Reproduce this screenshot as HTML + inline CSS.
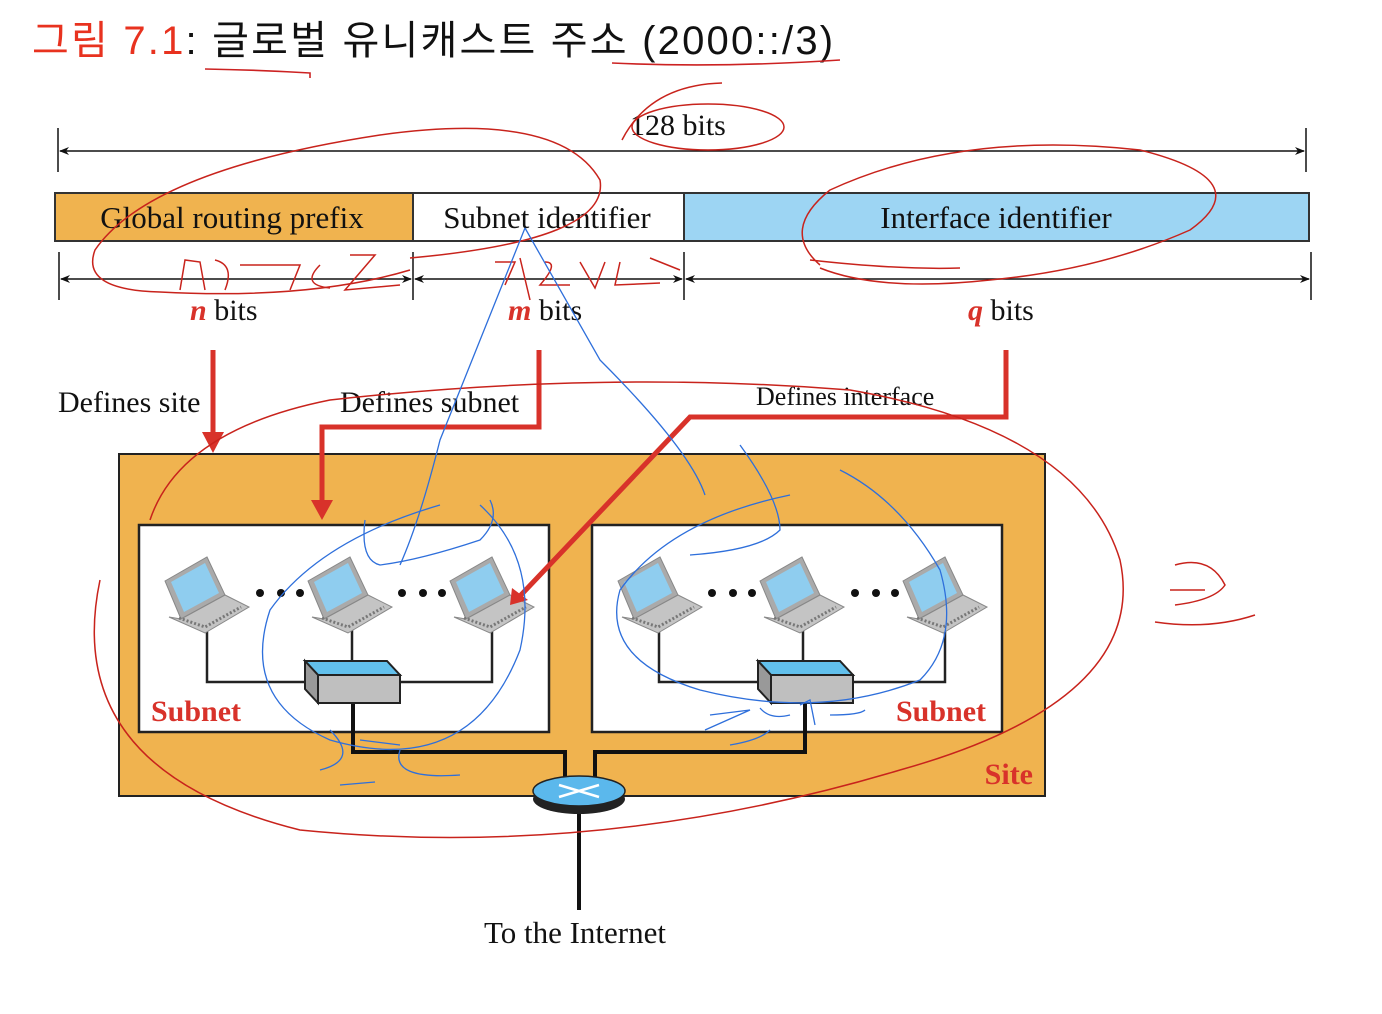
<!DOCTYPE html>
<html><head><meta charset="utf-8"><style>
html,body{margin:0;padding:0;background:#fff;width:1382px;height:1014px;overflow:hidden}
svg{display:block}
.t{font-family:"Liberation Serif",serif;fill:#111}
</style></head><body>
<svg width="1382" height="1014" viewBox="0 0 1382 1014" xmlns="http://www.w3.org/2000/svg">
<defs>
<marker id="ah" markerWidth="10" markerHeight="10" refX="9" refY="5" orient="auto-start-reverse" markerUnits="userSpaceOnUse"><path d="M0,1 L10,5 L0,9 L3,5z" fill="#111"/></marker>
<g id="lap">
 <path d="M0,26 L42,2 L60,40 L16,64 Z" fill="#aaa" stroke="#888"/>
 <path d="M6,27 L40,8 L54,38 L19,57 Z" fill="#8fcdef"/>
 <path d="M16,64 L60,40 L84,52 L40,78 L4,62 Z" fill="#c4c4c4" stroke="#888"/>
 <path d="M14,63 L40,72 L76,52" fill="none" stroke="#777" stroke-width="3" stroke-dasharray="2 2"/>
</g>
<g id="sw">
 <path d="M0,0 L82,0 L95,14 L13,14 Z" fill="#62c0ec" stroke="#222" stroke-width="2"/>
 <path d="M0,0 L13,14 L13,42 L0,28 Z" fill="#999" stroke="#222" stroke-width="2"/>
 <rect x="13" y="14" width="82" height="28" fill="#bfbfbf" stroke="#222" stroke-width="2"/>
</g>
</defs>

<text x="32" y="54" style="font-family:'Liberation Sans','Noto Sans CJK KR',sans-serif;font-size:40px;letter-spacing:2.2px" fill="#e8321f">그림 7.1<tspan fill="#111">:  글로벌 유니캐스트 주소 (2000::/3)</tspan></text>
<path d="M205,69 Q260,70 310,73 L310,78" stroke="#c22" fill="none" stroke-width="1.6"/>
<path d="M612,63 Q720,68 840,60" stroke="#c22" fill="none" stroke-width="1.6"/>

<line x1="58" y1="128" x2="58" y2="172" stroke="#111" stroke-width="1.5"/>
<line x1="1306" y1="128" x2="1306" y2="172" stroke="#111" stroke-width="1.5"/>
<line x1="60" y1="151" x2="1304" y2="151" stroke="#111" stroke-width="1.5" marker-start="url(#ah)" marker-end="url(#ah)"/>
<text class="t" x="630" y="135" font-size="30">128 bits</text>

<rect x="55" y="193" width="358" height="48" fill="#f0b34f" stroke="#333" stroke-width="2"/>
<rect x="413" y="193" width="271" height="48" fill="#fff" stroke="#333" stroke-width="2"/>
<rect x="684" y="193" width="625" height="48" fill="#9dd5f3" stroke="#333" stroke-width="2"/>
<text class="t" x="232" y="228" font-size="31" text-anchor="middle">Global routing prefix</text>
<text class="t" x="547" y="228" font-size="31" text-anchor="middle">Subnet identifier</text>
<text class="t" x="996" y="228" font-size="31" text-anchor="middle">Interface identifier</text>

<g stroke="#111" stroke-width="1.5">
<line x1="59" y1="252" x2="59" y2="300"/><line x1="413" y1="252" x2="413" y2="300"/><line x1="684" y1="252" x2="684" y2="300"/><line x1="1311" y1="252" x2="1311" y2="300"/>
<line x1="61" y1="279" x2="411" y2="279" marker-start="url(#ah)" marker-end="url(#ah)"/>
<line x1="415" y1="279" x2="682" y2="279" marker-start="url(#ah)" marker-end="url(#ah)"/>
<line x1="686" y1="279" x2="1309" y2="279" marker-start="url(#ah)" marker-end="url(#ah)"/>
</g>
<text class="t" x="190" y="320" font-size="30"><tspan fill="#d8322a" font-weight="bold" font-style="italic">n</tspan> bits</text>
<text class="t" x="508" y="320" font-size="30"><tspan fill="#d8322a" font-weight="bold" font-style="italic">m</tspan> bits</text>
<text class="t" x="968" y="320" font-size="30"><tspan fill="#d8322a" font-weight="bold" font-style="italic">q</tspan> bits</text>

<text class="t" x="58" y="412" font-size="30">Defines site</text>
<text class="t" x="340" y="412" font-size="30">Defines subnet</text>
<text class="t" x="756" y="405" font-size="26">Defines interface</text>

<rect x="119" y="454" width="926" height="342" fill="#f0b34f" stroke="#222" stroke-width="2"/>
<rect x="139" y="525" width="410" height="207" fill="#fff" stroke="#222" stroke-width="2.5"/>
<rect x="592" y="525" width="410" height="207" fill="#fff" stroke="#222" stroke-width="2.5"/>
<text x="1033" y="784" font-family="Liberation Serif,serif" font-weight="bold" font-size="30" fill="#d8322a" text-anchor="end">Site</text>
<text x="151" y="721" font-family="Liberation Serif,serif" font-weight="bold" font-size="30" fill="#d8322a">Subnet</text>
<text x="896" y="721" font-family="Liberation Serif,serif" font-weight="bold" font-size="30" fill="#d8322a">Subnet</text>

<g stroke="#222" stroke-width="2.5" fill="none">
<path d="M207,630 L207,682 L320,682"/><path d="M352,630 L352,662"/><path d="M492,630 L492,682 L398,682"/>
<path d="M659,630 L659,682 L770,682"/><path d="M803,630 L803,662"/><path d="M945,630 L945,682 L850,682"/>
</g>
<g stroke="#111" stroke-width="4" fill="none">
<path d="M353,703 L353,752 L565,752 L565,780"/>
<path d="M805,703 L805,752 L595,752 L595,780"/>
<path d="M579,805 L579,910"/>
</g>
<use href="#lap" x="165" y="555"/><use href="#lap" x="308" y="555"/><use href="#lap" x="450" y="555"/>
<use href="#lap" x="618" y="555"/><use href="#lap" x="760" y="555"/><use href="#lap" x="903" y="555"/>
<g fill="#111"><circle cx="260" cy="593" r="4"/><circle cx="281" cy="593" r="4"/><circle cx="300" cy="593" r="4"/>
<circle cx="402" cy="593" r="4"/><circle cx="423" cy="593" r="4"/><circle cx="442" cy="593" r="4"/>
<circle cx="712" cy="593" r="4"/><circle cx="733" cy="593" r="4"/><circle cx="752" cy="593" r="4"/>
<circle cx="855" cy="593" r="4"/><circle cx="876" cy="593" r="4"/><circle cx="895" cy="593" r="4"/></g>
<use href="#sw" x="305" y="661"/><use href="#sw" x="758" y="661"/>

<g stroke="#d8322a" stroke-width="5" fill="none">
<path d="M213,350 L213,440"/>
<path d="M539,350 L539,427 L322,427 L322,507"/>
<path d="M1006,350 L1006,417 L690,417 L520,596"/>
</g>
<path d="M202,432 L213,453 L224,432 Z" fill="#d8322a"/>
<path d="M311,500 L322,520 L333,500 Z" fill="#d8322a"/>
<path d="M512,588 L510,605 L528,600 Z" fill="#d8322a"/>

<ellipse cx="579" cy="799" rx="46" ry="15" fill="#222"/>
<ellipse cx="579" cy="791" rx="46" ry="15" fill="#5bb8ec" stroke="#222" stroke-width="1.5"/>
<path d="M559,785 L599,797 M559,797 L599,785" stroke="#fff" stroke-width="2.5"/>
<text class="t" x="575" y="943" font-size="31" text-anchor="middle">To the Internet</text>

<g stroke="#c8231c" stroke-width="1.5" fill="none">
<ellipse cx="708" cy="127" rx="76" ry="23"/>
<path d="M622,140 Q650,85 722,83"/>
<path d="M410,270 Q310,300 160,292 Q80,290 95,250 Q150,170 380,135 Q560,110 600,180 Q610,240 410,258"/>
<path d="M820,265 Q780,230 830,190 Q960,130 1140,150 Q1260,180 1190,230 Q1100,270 990,280 Q880,292 820,268 M810,260 Q900,270 960,268"/>
<path d="M180,290 L185,260 L200,262 L205,290 M215,260 Q235,265 225,290 M240,265 L300,265 L290,290 M320,265 Q300,285 330,288 M350,255 L375,255 L345,290 L400,285"/>
<path d="M495,262 L515,262 L505,285 M520,258 L530,300 M545,262 Q560,262 540,285 L570,285 M580,262 L595,288 L605,262 M620,262 L615,285 L660,283 M650,258 L680,270"/>
<path d="M100,580 Q60,770 300,830 Q600,860 900,770 Q1150,700 1120,560 Q1080,430 850,390 Q600,370 330,400 Q180,430 150,520"/>
<path d="M1175,565 Q1210,555 1225,585 Q1215,600 1175,605 M1155,622 Q1210,630 1255,615 M1170,590 L1205,590"/>
</g>
<g stroke="#2e6fdb" stroke-width="1.3" fill="none">
<path d="M525,228 L440,440 Q420,520 400,565 M525,228 L600,360 Q690,450 705,495"/>
<path d="M440,505 Q320,540 270,610 Q240,700 330,740 Q470,780 520,650 Q540,560 480,505"/>
<path d="M365,520 Q360,560 380,565 Q420,560 480,540 Q500,520 490,500"/>
<path d="M790,495 Q670,520 620,590 Q600,660 700,690 Q820,720 920,680 Q960,640 940,570 Q900,500 840,470"/>
<path d="M740,445 Q780,500 780,530 Q760,550 690,555"/>
<path d="M330,730 Q360,760 320,770 M360,740 L400,745 M400,750 Q390,780 460,775 M340,785 L375,782"/>
<path d="M710,715 L750,710 L705,730 M760,708 Q770,720 790,715 M800,705 L810,700 L815,725 M730,745 Q760,740 770,730 M830,715 Q860,715 865,710"/>
</g>
</svg>
</body></html>
